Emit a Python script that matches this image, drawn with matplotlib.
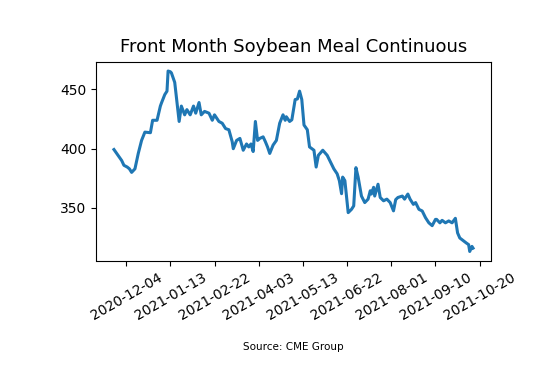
import pandas as pd
import matplotlib
import matplotlib.pyplot as plt
import matplotlib.dates as mdates

matplotlib.use('agg')

# price series
dates = [
    '2020-11-23', '2020-11-27', '2020-11-30', '2020-12-02', '2020-12-05', '2020-12-07',
    '2020-12-09', '2020-12-12', '2020-12-15', '2020-12-18', '2020-12-21', '2020-12-26',
    '2020-12-28', '2021-01-01', '2021-01-04', '2021-01-05', '2021-01-08', '2021-01-10',
    '2021-01-11', '2021-01-13', '2021-01-14', '2021-01-17', '2021-01-21', '2021-01-23',
    '2021-01-26', '2021-01-28', '2021-01-31', '2021-02-03', '2021-02-05', '2021-02-08',
    '2021-02-10', '2021-02-13', '2021-02-17', '2021-02-20', '2021-02-22', '2021-02-26',
    '2021-03-01', '2021-03-04', '2021-03-07', '2021-03-10', '2021-03-11', '2021-03-14',
    '2021-03-17', '2021-03-20', '2021-03-23', '2021-03-25', '2021-03-27', '2021-03-29',
    '2021-03-31', '2021-04-02', '2021-04-04', '2021-04-07', '2021-04-09', '2021-04-11',
    '2021-04-13', '2021-04-16', '2021-04-19', '2021-04-22', '2021-04-25', '2021-04-27',
    '2021-04-28', '2021-05-01', '2021-05-03', '2021-05-06', '2021-05-08', '2021-05-10',
    '2021-05-12', '2021-05-14', '2021-05-17', '2021-05-19', '2021-05-23', '2021-05-25',
    '2021-05-27', '2021-05-31', '2021-06-04', '2021-06-07', '2021-06-10', '2021-06-13',
    '2021-06-15', '2021-06-17', '2021-06-18', '2021-06-20', '2021-06-23', '2021-06-26',
    '2021-06-28', '2021-06-30', '2021-07-02', '2021-07-05', '2021-07-08', '2021-07-11',
    '2021-07-13', '2021-07-14', '2021-07-16', '2021-07-17', '2021-07-20', '2021-07-22',
    '2021-07-25', '2021-07-28', '2021-07-31', '2021-08-03', '2021-08-05', '2021-08-07',
    '2021-08-11', '2021-08-13', '2021-08-16', '2021-08-18', '2021-08-21', '2021-08-23',
    '2021-08-26', '2021-08-29', '2021-09-01', '2021-09-04', '2021-09-07', '2021-09-10',
    '2021-09-11', '2021-09-14', '2021-09-16', '2021-09-19', '2021-09-22', '2021-09-25',
    '2021-09-28', '2021-09-30', '2021-10-02', '2021-10-05', '2021-10-08', '2021-10-10',
    '2021-10-11', '2021-10-13', '2021-10-14',
]
prices = [
    399.3, 394.0, 390.0, 386.0, 384.5, 383.0,
    380.0, 383.0, 396.0, 407.0, 414.0, 413.5,
    424.0, 424.0, 436.0, 438.6, 445.7, 448.6,
    465.6, 465.0, 464.0, 456.0, 423.0, 436.0,
    428.6, 433.0, 428.6, 436.0, 430.0, 439.0,
    428.6, 431.5, 430.0, 424.0, 428.6, 423.0,
    421.5, 417.0, 416.0, 406.0, 400.0, 407.0,
    408.7, 398.7, 404.0, 401.5, 404.0, 397.6,
    423.0, 407.0, 408.7, 410.0, 406.0, 401.5,
    396.0, 403.0, 407.0, 421.5, 428.6, 424.0,
    427.0, 423.0, 424.4, 441.5, 442.0, 448.6,
    441.5, 420.0, 416.0, 401.5, 398.7, 384.5,
    394.4, 398.7, 394.4, 388.7, 383.0, 378.8,
    373.0, 362.0, 376.0, 373.0, 346.0, 348.8,
    351.7, 384.0, 376.0, 360.0, 354.5, 357.4,
    364.5, 361.7, 367.4, 360.0, 370.0, 358.8,
    356.0, 357.4, 354.5, 347.5, 357.0, 358.8,
    360.0, 357.4, 361.7, 357.4, 353.0, 354.5,
    348.8, 347.4, 341.7, 337.4, 335.0, 340.3,
    340.3, 337.4, 339.5, 337.4, 339.0, 337.4,
    341.2, 328.9, 324.6, 322.4, 320.3, 319.0,
    313.2, 317.5, 316.0,
]
tick_dates = ['2020-12-04', '2021-01-13', '2021-02-22', '2021-04-03', '2021-05-13',
              '2021-06-22', '2021-08-01', '2021-09-10', '2021-10-20']

df = pd.DataFrame({'date': pd.to_datetime(dates), 'price': prices})

fig = plt.figure(figsize=(5.59, 3.69), dpi=100)
ax = fig.add_axes([96 / 559, 108.5 / 369, 395 / 559, 198.5 / 369])
ax.plot(df['date'], df['price'], color='#1f77b4', linewidth=2.2)

ax.set_xticks(pd.to_datetime(tick_dates))
ax.xaxis.set_major_formatter(mdates.DateFormatter('%Y-%m-%d'))
ax.set_yticks([350, 400, 450])
plt.setp(ax.get_xticklabels(), rotation=30, ha='center')
ax.tick_params(labelsize=10)
ax.set_title('Front Month Soybean Meal Continuous', fontsize=13, pad=7)

fig.text(293.5 / 559, 22 / 369, 'Source: CME Group', ha='center', va='center', fontsize=7.5)

plt.savefig('out.png', dpi=100)
